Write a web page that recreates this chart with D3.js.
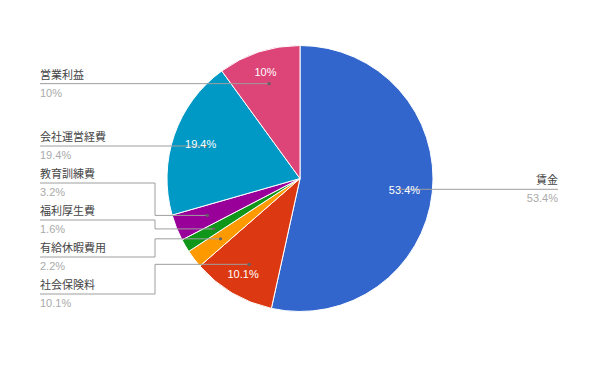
<!DOCTYPE html>
<html>
<head>
<meta charset="utf-8">
<script src="https://cdn.jsdelivr.net/npm/d3@7"></script>
<style>
  body { margin: 0; background: #fff; }
  svg { display: block; font-family: "Liberation Sans", Arial, "Noto Sans CJK JP", sans-serif; }
  .slice { stroke: #fff; stroke-width: 1; }
  .inner-label { fill: #fff; font-size: 11px; }
  .cat-label { fill: #444; font-size: 11px; font-family: "Noto Sans CJK JP", sans-serif; }
  .pct-label { fill: #aaa; font-size: 11px; }
  .leader { fill: none; stroke: #9e9e9e; stroke-width: 1; }
  .leader-dot { fill: #636363; }
</style>
</head>
<body>
<svg id="chart" width="600" height="372"></svg>
<script>
// Data, clockwise from 12 o'clock
const categories = ['賃金', '社会保険料', '有給休暇費用', '福利厚生費', '教育訓練費', '会社運営経費', '営業利益'];
const values     = [53.4, 10.1, 2.2, 1.6, 3.2, 19.4, 10];
const pctLabels  = ['53.4%', '10.1%', '2.2%', '1.6%', '3.2%', '19.4%', '10%'];
const colors     = ['#3366cc', '#dc3912', '#ff9900', '#109618', '#990099', '#0099c6', '#dd4477'];

const W = 600, H = 372;
const cx = 300, cy = 178.5, R = 133;
const LABEL_GAP = 37;      // vertical space taken by one side label
const LEFT_X = 40, RIGHT_X = 558;
const ELBOW_X = cx - R - 12;

const svg = d3.select('#chart');
const g = svg.append('g').attr('transform', `translate(${cx},${cy})`);

const pie = d3.pie().sort(null).value(d => d);
const arcs = pie(values);
const arc = d3.arc().innerRadius(0).outerRadius(R);

// Slices
g.selectAll('.slice')
  .data(arcs)
  .join('path')
  .classed('slice', true)
  .attr('fill', (d, i) => colors[i])
  .attr('d', arc);

// Leader anchor points (on the slice's mid angle)
const dotArc = d3.arc().innerRadius(R * 0.75).outerRadius(R * 0.75);

const items = arcs.map((a, i) => {
  const [dx, dy] = dotArc.centroid(a);
  const mid = (a.startAngle + a.endAngle) / 2;
  return { i, dx, dy, side: mid > Math.PI ? 'left' : 'right', ty: dy };
});

// Stack labels on one side: cluster overlapping ones, centre them, then push down
function layoutSide(list) {
  list.sort((a, b) => a.ty - b.ty);
  const groups = [];
  list.forEach(d => {
    const last = groups[groups.length - 1];
    if (last && d.ty - last[last.length - 1].ty < LABEL_GAP) last.push(d);
    else groups.push([d]);
  });
  groups.forEach(grp => {
    const m = d3.mean(grp, d => d.ty);
    grp.forEach((d, k) => { d.ly = m + (k - (grp.length - 1) / 2) * LABEL_GAP; });
  });
  for (let k = 1; k < list.length; k++) {
    if (list[k].ly < list[k - 1].ly + LABEL_GAP) list[k].ly = list[k - 1].ly + LABEL_GAP;
  }
}
layoutSide(items.filter(d => d.side === 'left'));
layoutSide(items.filter(d => d.side === 'right'));

// Leader lines
items.forEach(d => {
  const pts = [];
  if (d.side === 'left') {
    const ex = ELBOW_X - cx;
    if (Math.abs(d.ly - d.dy) < 1) {
      pts.push([d.dx, d.dy], [LEFT_X - cx, d.dy]);
    } else {
      pts.push([d.dx, d.dy], [ex, d.dy], [ex, d.ly], [LEFT_X - cx, d.ly]);
    }
  } else {
    pts.push([d.dx, d.dy], [RIGHT_X - cx, d.ly]);
  }
  g.append('path').classed('leader', true).attr('d', d3.line()(pts));
  g.append('circle').classed('leader-dot', true)
    .attr('cx', d.dx).attr('cy', d.dy).attr('r', 1.6);
});

// Inner percentage labels for the larger slices (narrower slices push the text outward)
function innerPos(a) {
  const rr = R * (a.data < 15 ? 0.84 : 0.79);
  return d3.arc().innerRadius(rr).outerRadius(rr).centroid(a);
}
g.selectAll('.inner-label')
  .data(arcs.filter(a => a.data >= 5))
  .join('text')
  .classed('inner-label', true)
  .attr('x', a => innerPos(a)[0])
  .attr('y', a => innerPos(a)[1])
  .attr('text-anchor', 'middle')
  .attr('dy', '0.35em')
  .text(a => pctLabels[arcs.indexOf(a)]);

// Side labels: category above the line, percentage below
items.forEach(d => {
  const left = d.side === 'left';
  const x = (left ? LEFT_X : RIGHT_X) - cx;
  const anchor = left ? 'start' : 'end';
  g.append('text').classed('cat-label', true)
    .attr('x', x).attr('y', d.ly - 5)
    .attr('text-anchor', anchor)
    .text(categories[d.i]);
  g.append('text').classed('pct-label', true)
    .attr('x', x).attr('y', d.ly + 13)
    .attr('text-anchor', anchor)
    .text(pctLabels[d.i]);
});
</script>
</body>
</html>
